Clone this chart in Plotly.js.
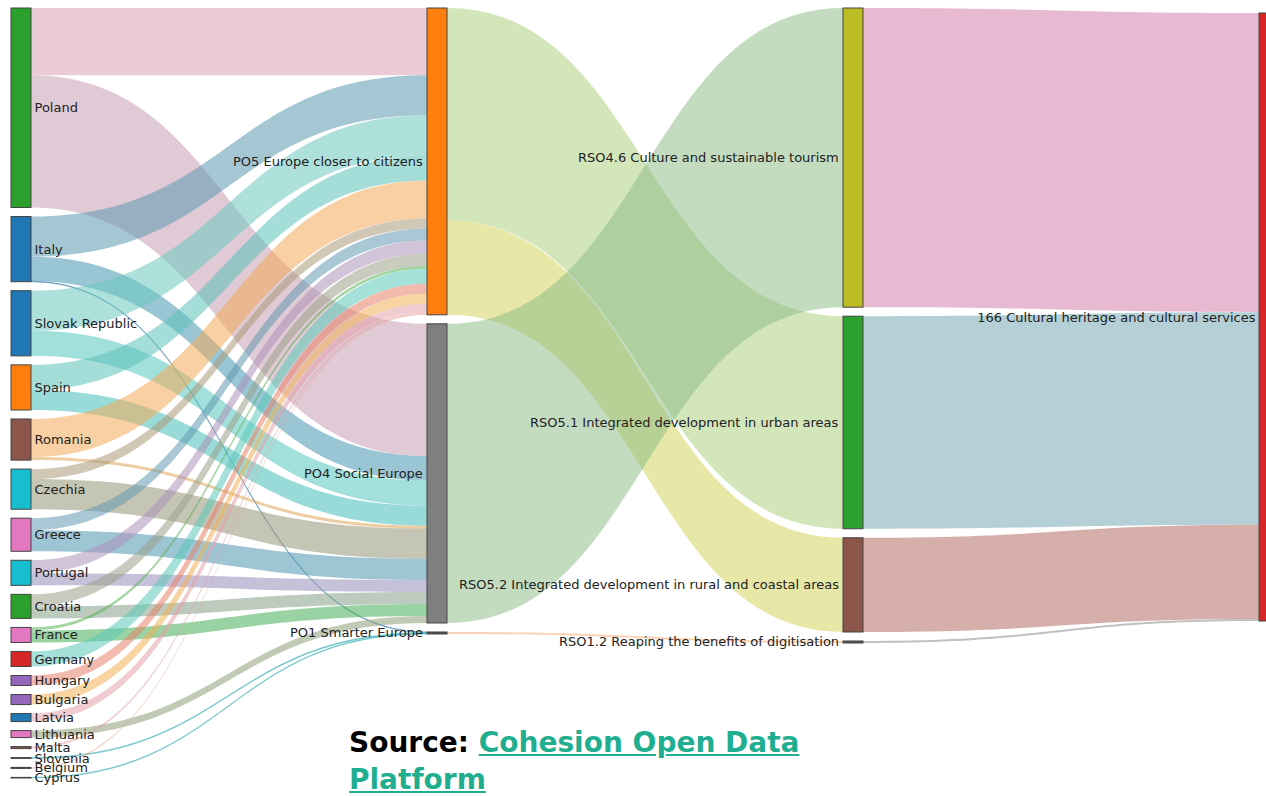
<!DOCTYPE html>
<html>
<head>
<meta charset="utf-8">
<script src="https://cdn.plot.ly/plotly-3.0.1.min.js"></script>
<style>
  html, body { margin: 0; padding: 0; overflow: hidden; background: #fff; }
  #chart { width: 1279px; height: 796px; }
  .source {
    position: absolute; left: 349px; top: 724px; width: 480px;
    font: bold 28px "DejaVu Sans", Verdana, sans-serif; line-height: 37px; color: #000;
  }
  .source a { color: #1fae8f; text-decoration: underline; }
</style>
</head>
<body>
<div id="chart"></div>
<div class="source">Source: <a href="https://cohesiondata.ec.europa.eu/">Cohesion Open Data Platform</a></div>
<script>
// EU allocations to intervention field 166 (EUR million)
const countries = ['Poland', 'Italy', 'Slovak Republic', 'Spain', 'Romania', 'Czechia', 'Greece',
  'Portugal', 'Croatia', 'France', 'Germany', 'Hungary', 'Bulgaria', 'Latvia', 'Lithuania',
  'Malta', 'Slovenia', 'Belgium', 'Cyprus'];
const toPO5 = [335, 200, 200, 125, 190, 50, 60, 65, 60, 15, 75, 50, 50, 40, 0, 10, 0, 5, 0];
const toPO4 = [660, 122, 125, 100, 15, 150, 105, 60, 60, 60, 0, 0, 0, 0, 35, 0, 0, 0, 0];
const toPO1 = [0, 3, 0, 0, 0, 0, 0, 0, 0, 0, 0, 0, 0, 0, 0, 0, 4, 0, 3];

const priorities = ['PO5 Europe closer to citizens', 'PO4 Social Europe', 'PO1 Smarter Europe'];
const objectives = ['RSO4.6 Culture and sustainable tourism',
  'RSO5.1 Integrated development in urban areas',
  'RSO5.2 Integrated development in rural and coastal areas',
  'RSO1.2 Reaping the benefits of digitisation'];
const fields = ['166 Cultural heritage and cultural services'];

// priority -> specific objective
const poFrom = [0, 0, 1, 2];
const poTo = [1, 2, 0, 3];
const poValue = [1060, 470, 1492, 10];

// specific objective -> intervention field
const rsoTo166 = [1492, 1060, 470, 10];

// colours
const countryNodeColors = ['#2ca02c', '#1f77b4', '#1f77b4', '#ff7f0e', '#8c564b', '#17becf', '#e377c2',
  '#17becf', '#2ca02c', '#e377c2', '#d62728', '#9467bd', '#9467bd', '#1f77b4', '#e377c2',
  '#8c564b', '#555555', '#555555', '#555555'];
const countryLinkRgb = [[220, 150, 195], [60, 140, 190], [80, 200, 210], [60, 190, 200], [250, 160, 80],
  [160, 140, 120], [70, 140, 190], [160, 130, 200], [140, 150, 140], [60, 170, 80], [60, 200, 200],
  [235, 110, 100], [250, 170, 80], [230, 150, 180], [150, 150, 120], [230, 150, 180], [60, 190, 200],
  [235, 140, 120], [60, 190, 200]];
const poTint = [[215, 205, 120], [110, 190, 120], [150, 150, 150]];
const poNodeColors = ['#ff7f0e', '#7f7f7f', '#555555'];
const rsoNodeColors = ['#bcbd22', '#2ca02c', '#8c564b', '#555555'];
const poLinkColors = ['rgba(175,210,130,0.55)', 'rgba(215,215,110,0.6)', 'rgba(135,185,130,0.5)', 'rgba(250,180,130,0.6)'];
const rsoLinkColors = ['rgba(215,140,180,0.6)', 'rgba(130,175,185,0.6)', 'rgba(180,110,100,0.55)', 'rgba(150,150,150,0.6)'];

function mixColor(a, b, t, alpha) {
  const c = a.map((v, i) => Math.round(v * (1 - t) + b[i] * t));
  return 'rgba(' + c.join(',') + ',' + alpha + ')';
}

// node indices
const nC = countries.length;
const poBase = nC;
const rsoBase = poBase + priorities.length;
const fBase = rsoBase + objectives.length;
const labels = countries.concat(priorities, objectives, fields);
const nodeColors = countryNodeColors.concat(poNodeColors, rsoNodeColors, ['#d62728']);

const src = [], tgt = [], val = [], lcol = [];
countries.forEach((c, i) => {
  [toPO5, toPO4, toPO1].forEach((arr, p) => {
    if (arr[i] > 0) {
      src.push(i); tgt.push(poBase + p); val.push(arr[i]);
      lcol.push(mixColor(countryLinkRgb[i], poTint[p], 0.2, 0.55));
    }
  });
});
poFrom.forEach((p, k) => { src.push(poBase + p); tgt.push(rsoBase + poTo[k]); val.push(poValue[k]); lcol.push(poLinkColors[k]); });
rsoTo166.forEach((v, r) => { src.push(rsoBase + r); tgt.push(fBase); val.push(v); lcol.push(rsoLinkColors[r]); });

// column layout: stack nodes top-down like the original
const W = 1268, H = 770, PAD = 9, THICK = 20;
const columns = [
  countries.map((_, i) => i),
  priorities.map((_, i) => poBase + i),
  objectives.map((_, i) => rsoBase + i),
  [fBase]
];
const nodeValue = labels.map((_, n) => {
  let sIn = 0, sOut = 0;
  src.forEach((s, k) => { if (s === n) sOut += val[k]; if (tgt[k] === n) sIn += val[k]; });
  return Math.max(sIn, sOut);
});
const ky = Math.min(...columns.map(col =>
  (H - (col.length - 1) * PAD) / col.reduce((a, n) => a + nodeValue[n], 0)));
const nodeX = [], nodeY = [];
columns.forEach((col, c) => {
  let y = c === 3 ? 5 : 0;
  col.forEach(n => {
    const h = nodeValue[n] * ky;
    nodeX[n] = (THICK / 2 + c * (W - THICK) / 3) / W;
    nodeY[n] = (y + h / 2) / H;
    y += h + PAD;
  });
});

// middle-column labels sit to the left of their nodes, as in the original
const middle = columns[1].concat(columns[2]);
const nodeLabels = labels.map((l, n) => middle.includes(n) ? '' : l);
const labelFont = { family: 'DejaVu Sans, Verdana, sans-serif', size: 13, color: '#222' };
const annotations = middle.map(n => ({
  text: labels[n],
  xref: 'paper', yref: 'paper',
  x: (nodeX[n] * W - THICK / 2 - 2) / W,
  y: 1 - nodeY[n],
  xanchor: 'right', yanchor: 'middle',
  showarrow: false,
  font: labelFont
}));

const trace = {
  type: 'sankey',
  arrangement: 'freeform',
  valueformat: ',.0f',
  valuesuffix: ' M€',
  node: {
    label: nodeLabels,
    customdata: labels,
    hovertemplate: '%{customdata}<br>%{value}<extra></extra>',
    color: nodeColors,
    x: nodeX,
    y: nodeY,
    pad: PAD,
    thickness: THICK,
    line: { color: '#444', width: 1 }
  },
  link: { source: src, target: tgt, value: val, color: lcol },
  textfont: Object.assign({ shadow: 'none' }, labelFont)
};

const layout = {
  width: 1279,
  height: 796,
  margin: { l: 11, r: 0, t: 8, b: 18 },
  paper_bgcolor: '#fff',
  font: { family: 'DejaVu Sans, Verdana, sans-serif' },
  annotations: annotations
};

Plotly.newPlot('chart', [trace], layout, { displayModeBar: false, responsive: false });
</script>
</body>
</html>
